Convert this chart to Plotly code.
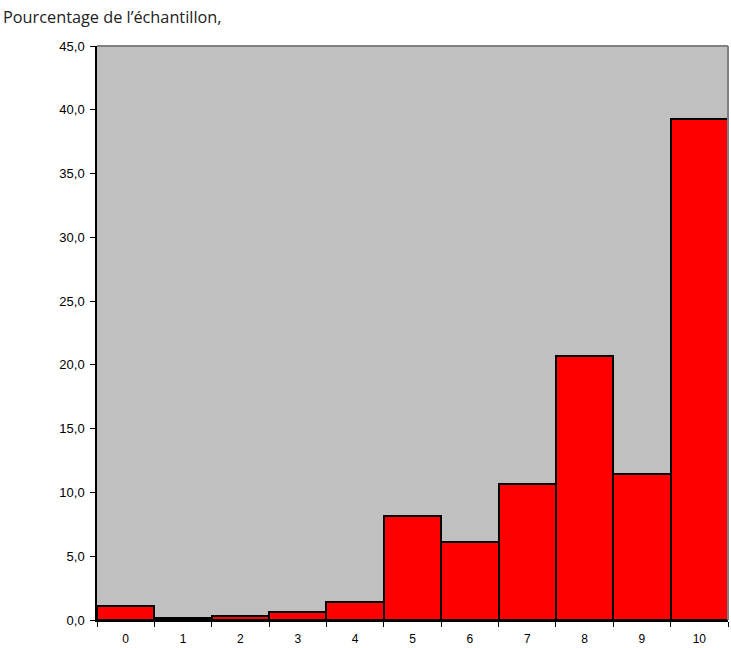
import plotly.graph_objects as go

categories = ["0", "1", "2", "3", "4", "5", "6", "7", "8", "9", "10"]
values = [1.12, 0.15, 0.34, 0.63, 1.41, 8.17, 6.14, 10.66, 20.71, 11.44, 39.3]
y_ticks = [0, 5, 10, 15, 20, 25, 30, 35, 40, 45]
title_text = "Pourcentage de l\u2019échantillon,"

fig = go.Figure(go.Bar(
    x=categories, y=values,
    marker=dict(color="#ff0000", line=dict(color="#000000", width=2)),
    width=1.0,
))

fig.update_layout(
    width=731, height=648,
    margin=dict(l=97, r=3, t=46, b=28),
    paper_bgcolor="white", plot_bgcolor="#c0c0c0",
    separators=", ",
    bargap=0,
    showlegend=False,
    font=dict(family="Liberation Sans, Arial, sans-serif", size=12, color="black"),
    annotations=[dict(
        text=title_text, xref="paper", yref="paper",
        x=-95/622, y=1 + 29/574, xanchor="left", yanchor="middle",
        showarrow=False, font=dict(family="Open Sans, Noto Sans, sans-serif", size=16.3, color="#222"),
    )],
    shapes=[
        dict(type="line", xref="paper", yref="paper", x0=0, x1=1, y0=1, y1=1,
             line=dict(color="#808080", width=2)),
        dict(type="line", xref="paper", yref="paper", x0=1, x1=1, y0=0, y1=1,
             line=dict(color="#808080", width=2)),
    ],
)

fig.update_xaxes(
    type="category", range=[-0.5, 10.5], automargin=False,
    showgrid=False, zeroline=False,
    showline=True, linecolor="black", linewidth=1.5,
    ticks="outside", tickson="boundaries", ticklen=5, tickcolor="black",
    tickfont=dict(size=12), ticklabelstandoff=7,
)
fig.update_yaxes(
    range=[0, 45], tickvals=y_ticks, tickformat=".1f", automargin=False,
    showgrid=False, zeroline=False,
    showline=True, linecolor="black", linewidth=1.5,
    ticks="outside", ticklen=5, tickcolor="black",
    tickfont=dict(size=13), ticklabelstandoff=3,
)

fig.write_html(
    "out.html",
    config={"displayModeBar": False},
    post_script="document.body.style.margin='0';document.body.style.overflow='hidden';",
)
